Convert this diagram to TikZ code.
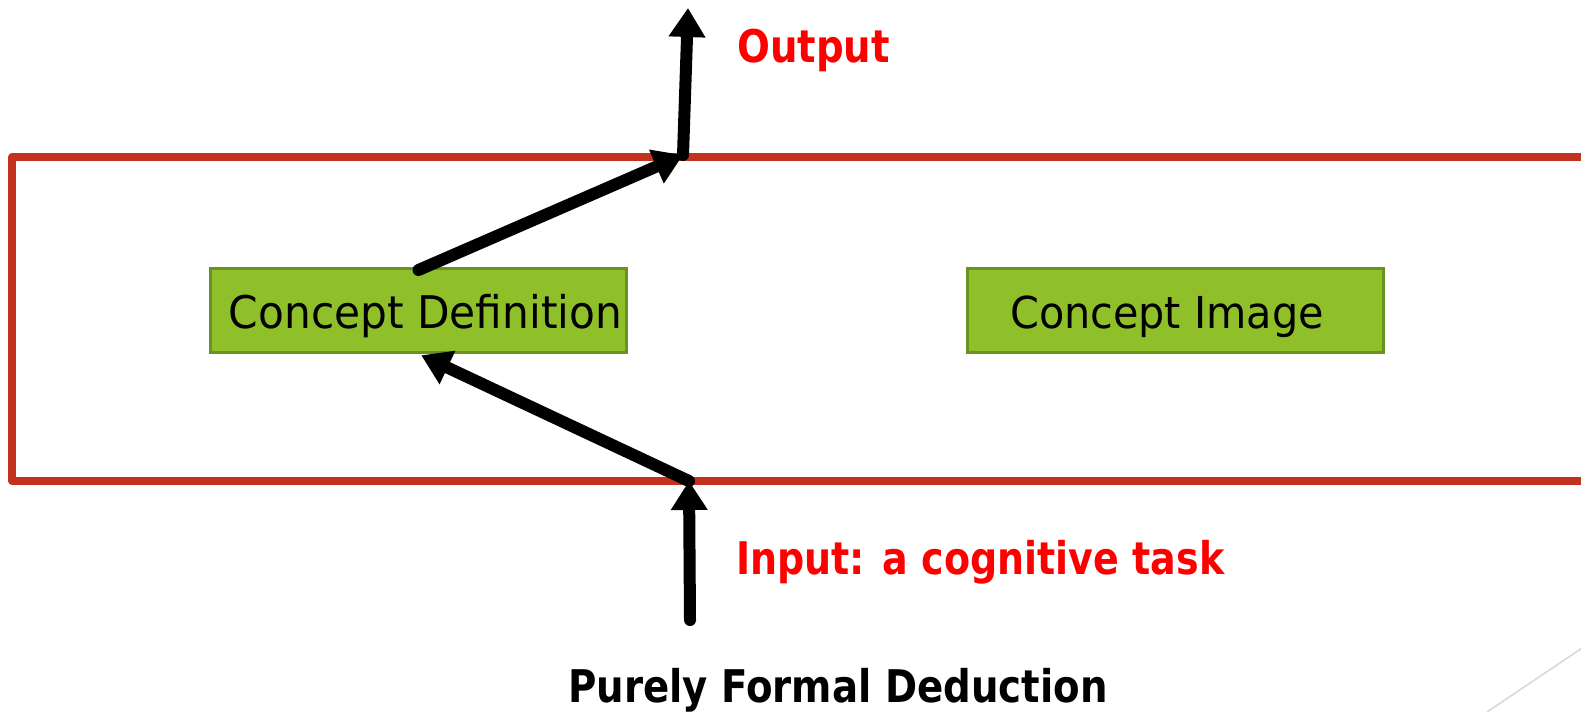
\documentclass[tikz,border=0pt]{standalone}
\usepackage{fontspec}
\setmainfont{DejaVu Sans}
\newfontfamily\tah[FakeStretch=0.86]{DejaVu Sans}
\newfontfamily\tahreg[FakeStretch=0.94]{DejaVu Sans}
\newfontfamily\tahnar[FakeStretch=0.845]{DejaVu Sans}
\usetikzlibrary{arrows.meta}
\definecolor{frame}{RGB}{194,50,30}
\definecolor{boxfill}{RGB}{143,192,41}
\definecolor{boxline}{RGB}{107,145,33}
\definecolor{lbl}{RGB}{255,0,0}
\definecolor{deco}{RGB}{215,215,215}
\tikzset{
  conceptbox/.style={draw=boxline, line width=3bp, fill=boxfill, minimum width=416bp, minimum height=84bp,
    inner sep=0pt, text height=35bp, text depth=0pt, font=\tahreg\fontsize{45bp}{54bp}\selectfont},
  redlbl/.style={text=lbl, inner sep=0pt, anchor=base west, font=\tah\bfseries\fontsize{45bp}{54bp}\selectfont},
  blacklbl/.style={text=black, inner sep=0pt, anchor=base west, font=\tah\bfseries\fontsize{45bp}{54bp}\selectfont},
  arr/.style={draw=black, line width=12bp, line cap=round, -{Triangle[width=35bp,length=29bp]}},
}
\begin{document}
\begin{tikzpicture}[x=1bp,y=-1bp]
\useasboundingbox (0,0) rectangle (1581,712);
\fill[white] (0,0) rectangle (1581,712);
% decorative corner line
\draw[deco, line width=1.5bp] (1487,712) -- (1600,636);
% frame
\draw[frame, line width=7.5bp, line join=round] (1600,157) -- (12,157) -- (12,481) -- (1600,481);
% boxes
\node[conceptbox] (cd) at (418.5,310.5) {\hspace*{14bp}Concept Definition};
\node[conceptbox] (ci) at (1175,310.5) {\fontsize{44bp}{54bp}\selectfont Concept Image\hspace*{16bp}};
% coordinates
\coordinate (inb) at (690,620);
\coordinate (inj) at (689,481);
\coordinate (outj) at (683,155);
\coordinate (outt) at (688,8);
% arrows
\draw[arr] (inb) -- (inj);
\draw[arr, shorten >=3bp] (inj) -- (cd.south);
\draw[arr] ([yshift=-3bp]cd.north) -- (outj);
\draw[arr] (outj) -- (outt);
% labels
\node[redlbl] (out) at (737,63) {Output};
\node[redlbl, font=\tahnar\bfseries\fontsize{45bp}{54bp}\selectfont] (inp) at (736,574) {Input: a cognitive task};
\node[blacklbl] (pfd) at (568,702) {Purely Formal Deduction};
\end{tikzpicture}
\end{document}
